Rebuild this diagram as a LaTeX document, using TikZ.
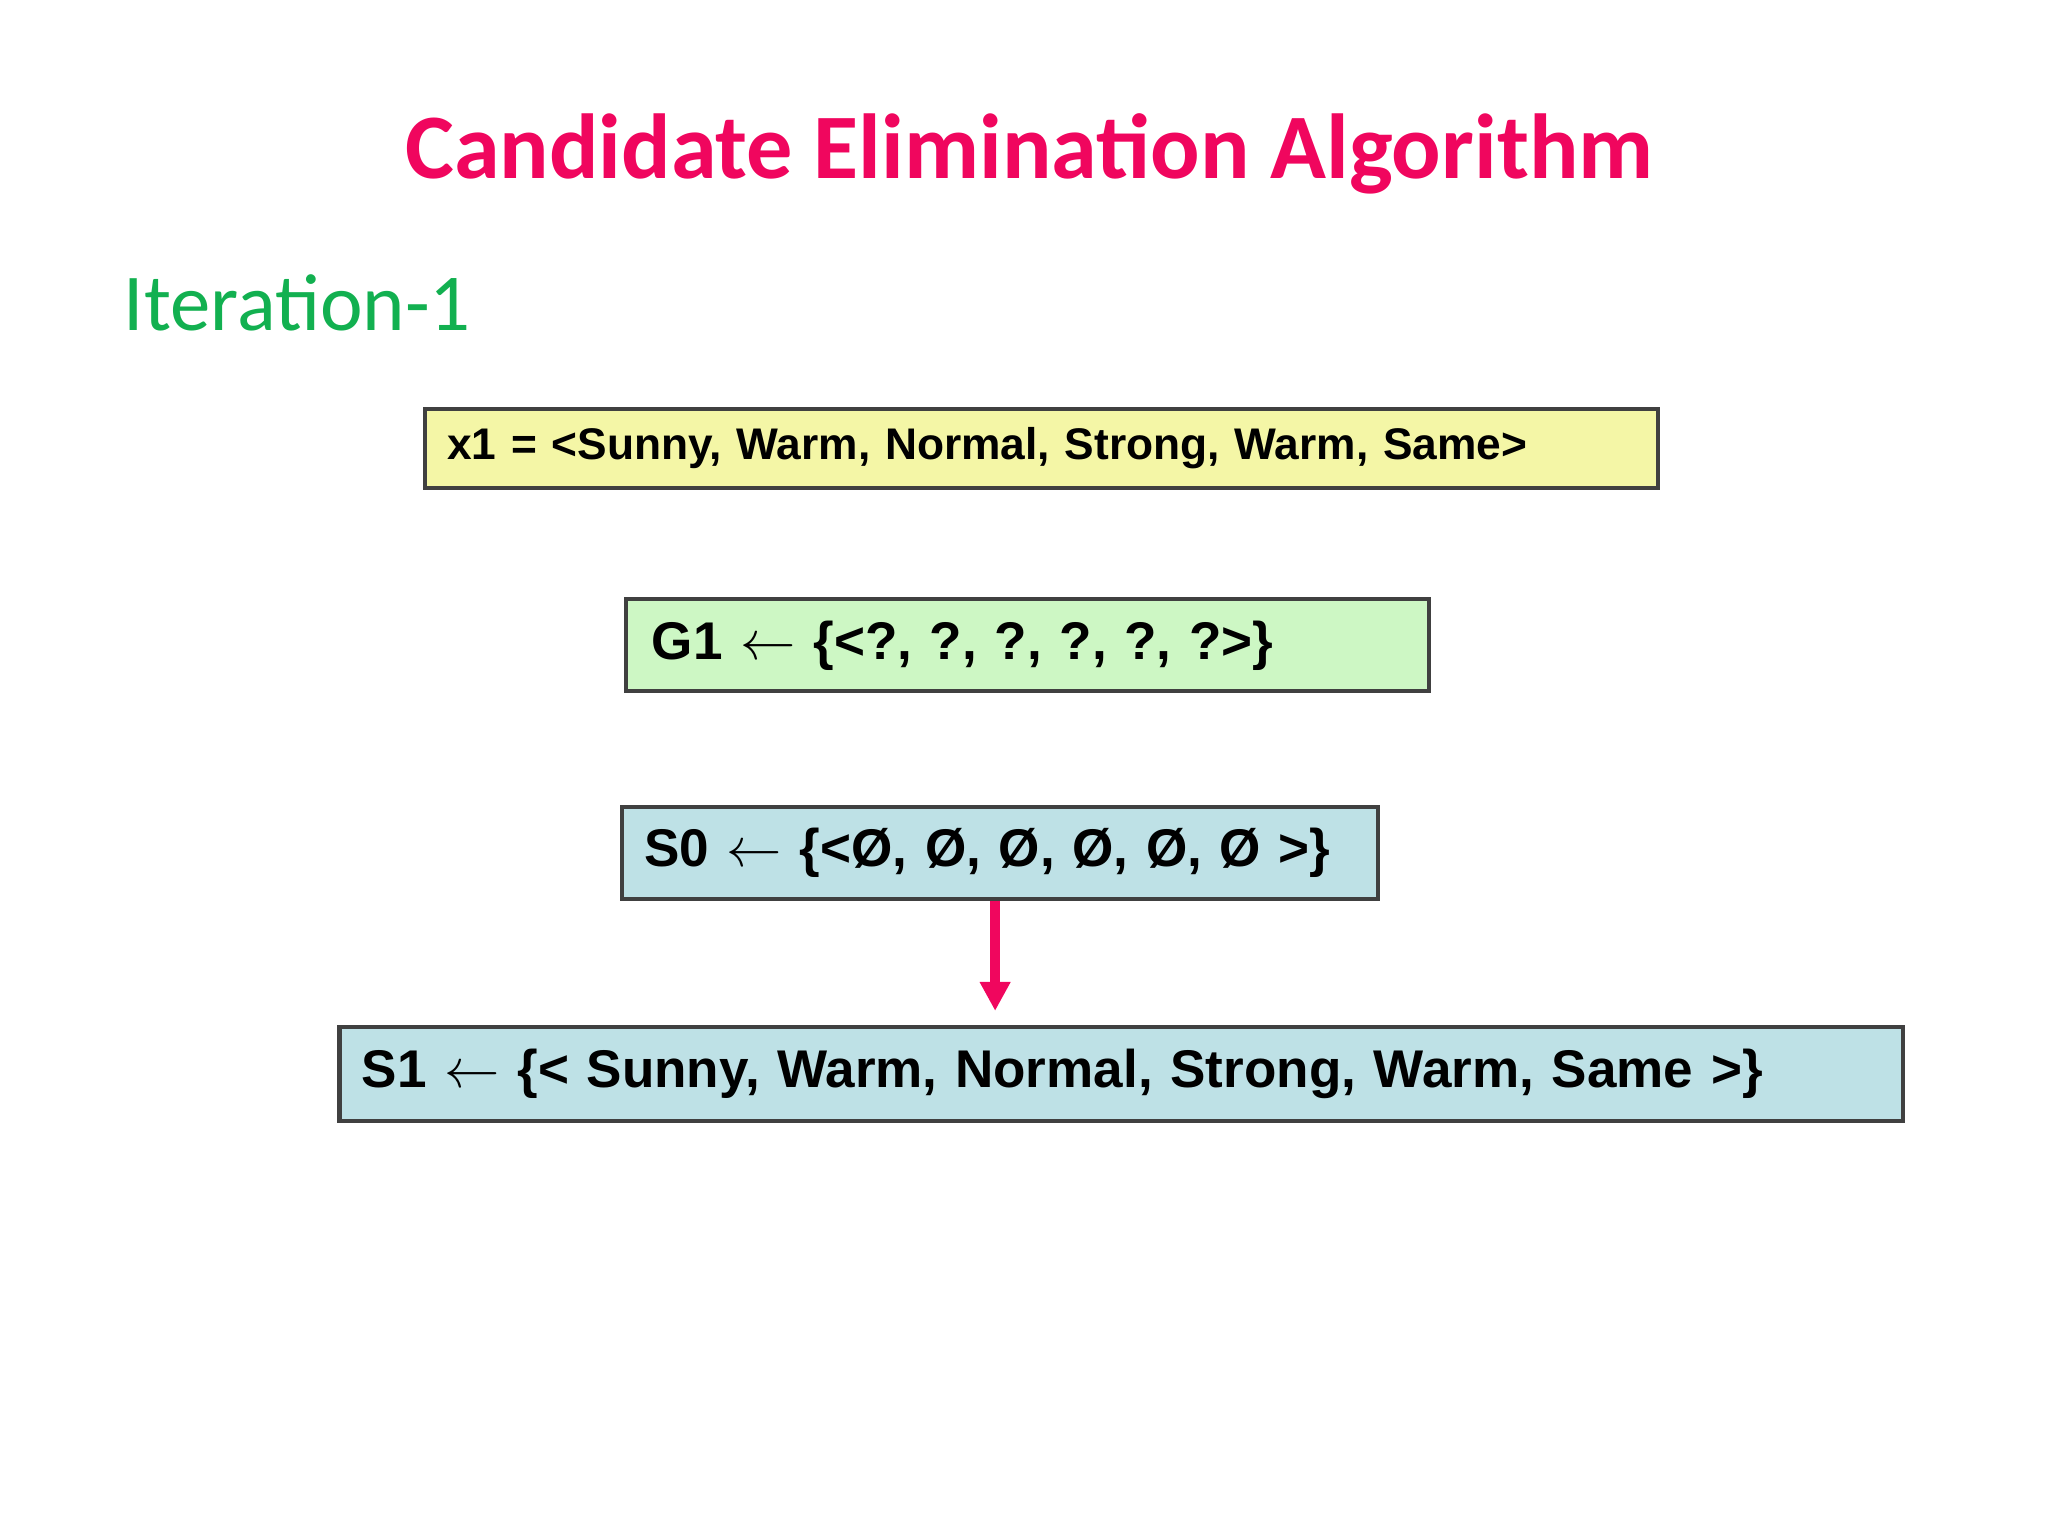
\documentclass[tikz,border=0pt]{standalone}
\usepackage{fontspec}
\setmainfont{Liberation Sans}
\newfontfamily\slidefont{Carlito}
\usetikzlibrary{arrows.meta}
\definecolor{titlepink}{HTML}{F0065E}
\definecolor{itergreen}{HTML}{12B050}
\definecolor{boxyellow}{HTML}{F4F6A6}
\definecolor{boxgreen}{HTML}{CDF7C4}
\definecolor{boxblue}{HTML}{BEE1E6}
\definecolor{boxline}{HTML}{404040}
\begin{document}
\begin{tikzpicture}[x=1cm,y=1cm,
  setbox/.style={draw=boxline,line width=0.9pt,anchor=north west,
    inner xsep=0.17cm,align=left,font=\bfseries},
  linkarrow/.style={-{Triangle[length=0.22cm,width=0.22cm]},
    titlepink,line width=2.2pt}]
  \useasboundingbox (0,0) rectangle (15.6,-11.7);

  \node[font=\slidefont\bfseries\fontsize{20}{24}\selectfont,text=titlepink]
    (title) at (7.84,-1.17) {Candidate Elimination Algorithm};
  \node[font=\slidefont\fontsize{17.5}{21}\selectfont,text=itergreen,anchor=west]
    (iter) at (0.82,-2.31) {Iteration-1};

  \node[setbox,fill=boxyellow,text width=9.05cm,minimum height=0.6cm,
    font=\bfseries\fontsize{9.6}{11}\selectfont]
    (x1) at (3.22,-3.10) {x1 = <Sunny, Warm, Normal, Strong, Warm, Same>};
  \node[setbox,fill=boxgreen,text width=5.72cm,minimum height=0.7cm,
    font=\bfseries\fontsize{11.5}{13}\selectfont,inner xsep=0.2cm]
    (G1) at (4.75,-4.55) {G1 $\leftarrow$ \{<?, ?, ?, ?, ?, ?>\}};
  \node[setbox,fill=boxblue,text width=5.42cm,minimum height=0.7cm,
    font=\bfseries\fontsize{11.5}{13}\selectfont]
    (S0) at (4.72,-6.13) {S0 $\leftarrow$ \{<Ø, Ø, Ø, Ø, Ø, Ø >\}};
  \node[setbox,fill=boxblue,text width=11.57cm,minimum height=0.71cm,
    font=\bfseries\fontsize{11.5}{13}\selectfont]
    (S1) at (2.57,-7.81) {S1 $\leftarrow$ \{< Sunny, Warm, Normal, Strong, Warm, Same >\}};

  \coordinate (tip) at (7.58,-7.70);
  \draw[linkarrow] (S0.south -| tip) -- (tip);
\end{tikzpicture}
\end{document}
